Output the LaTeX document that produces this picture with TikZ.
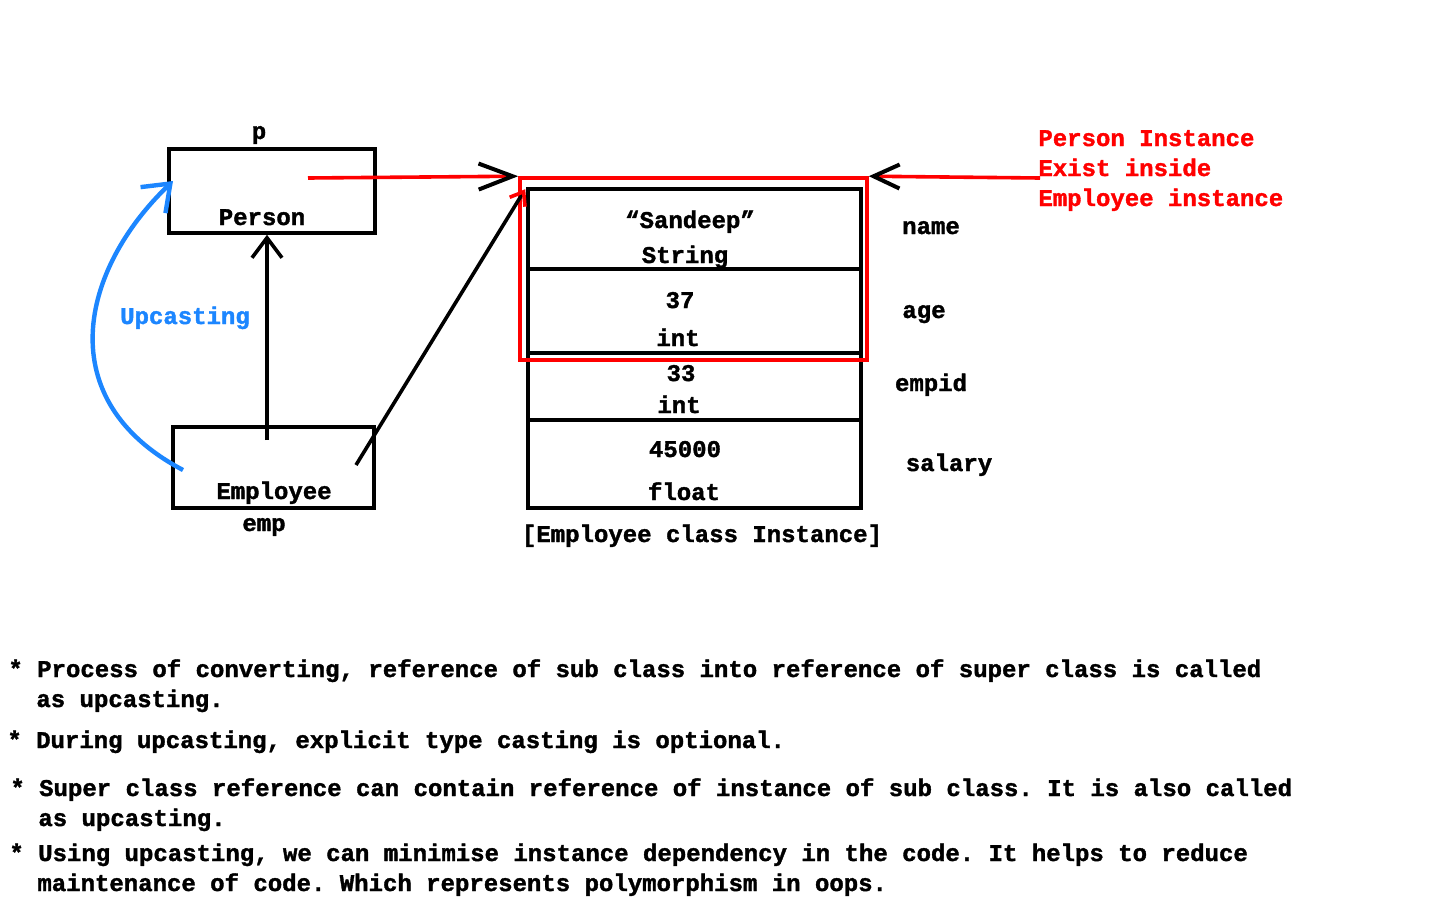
\documentclass[tikz,border=0pt]{standalone}
\usepackage{fontspec}
\setmonofont[FakeBold=1.5]{Liberation Mono}
\usetikzlibrary{arrows.meta}
\definecolor{upblue}{RGB}{28,134,255}
\definecolor{pred}{RGB}{255,0,0}
\begin{document}
\begin{tikzpicture}[x=0.5pt,y=-0.5pt,
  txt/.style={inner sep=0pt, font=\ttfamily\bfseries\fontsize{12pt}{15pt}\selectfont, text height=0.8em, text depth=0pt},
  box/.style={draw, line width=1.8pt, inner sep=0pt},
  cell/.style={box, minimum width=166.5pt},
  conn/.style={line width=1.8pt},
  redconn/.style={draw=pred, line width=1.8pt},
  redtxt/.style={txt, text=pred, anchor=west},
  bullet/.style={txt, anchor=west}
]
\useasboundingbox[fill=white] (0,0) rectangle (1440,900);

% reference boxes
\node[box, minimum width=103pt, minimum height=42pt] (person) at (272,191) {};
\node[txt] (plabel) at (259,131) {p};
\node[txt] (persontxt) at (262,217) {Person};

\node[box, minimum width=100.5pt, minimum height=40.5pt] (emp) at (273.5,467.5) {};
\node[txt] (emptxt) at (274,491) {Employee};
\node[txt] (emplabel) at (264,523) {emp};

% instance stack
\node[cell, minimum height=40pt] (c1) at (694.5,229) {};
\node[cell, minimum height=42pt] (c2) at (694.5,311) {};
\node[cell, minimum height=33.5pt] (c3) at (694.5,386.5) {};
\node[cell, minimum height=44pt] (c4) at (694.5,464) {};

\node[txt] (v1) at (690,220) {“Sandeep”};
\node[txt] (t1) at (685,255) {String};
\node[txt] (v2) at (680,300) {37};
\node[txt] (t2) at (678,338) {int};
\node[txt] (v3) at (681,373) {33};
\node[txt] (t3) at (679,405) {int};
\node[txt] (v4) at (685,449) {45000};
\node[txt] (t4) at (684,492) {float};
\node[txt] (inst) at (702,534) {[Employee class Instance]};

\node[txt] (f1) at (931,226) {name};
\node[txt] (f2) at (924,310) {age};
\node[txt] (f3) at (931,383) {empid};
\node[txt] (f4) at (949,463) {salary};

% person instance (red frame)
\node[draw=pred, line width=1.8pt, minimum width=173.5pt, minimum height=91pt, inner sep=0pt] (pinst) at (693.5,269) {};

\node[redtxt] (r1) at (1038,138) {Person Instance};
\node[redtxt] (r2) at (1038,168) {Exist inside};
\node[redtxt] (r3) at (1038,198) {Employee instance};

\node[txt, text=upblue] (upc) at (185,316) {Upcasting};

% connector end points
\coordinate (pref) at (308,178);
\coordinate (eref) at (267,440);
\coordinate (ediag) at (356,465);
\coordinate (lref) at (1040,178);
\coordinate (bstart) at (183,470);
\coordinate (bend) at (173,181);

% connectors
\draw[redconn, -{Straight Barb[length=17pt,width=13pt,black,line width=2pt]}] (pref) -- (pinst.north west);
\draw[redconn, -{Straight Barb[length=13pt,width=12pt,black,line width=2pt]}] (lref) -- (pinst.north east);
\draw[conn, -{Straight Barb[length=10pt,width=15pt]}] (eref) -- (eref |- person.south);
\draw[conn, -{Straight Barb[length=6pt,width=9pt,pred]}] (ediag) -- ([xshift=-0.5pt,yshift=-1pt]c1.north west);
\draw[upblue, line width=2.2pt, -{Straight Barb[length=12pt,width=18pt]}] (bstart) .. controls (50,400) and (80,270) .. (bend);

% notes
\node[bullet] (n1) at (8,669) {* Process of converting, reference of sub class into reference of super class is called};
\node[bullet] (n1b) at (36,699) {as upcasting.};
\node[bullet] (n2) at (7,740) {* During upcasting, explicit type casting is optional.};
\node[bullet] (n3) at (10,788) {* Super class reference can contain reference of instance of sub class. It is also called};
\node[bullet] (n3b) at (38,818) {as upcasting.};
\node[bullet] (n4) at (9,853) {* Using upcasting, we can minimise instance dependency in the code. It helps to reduce};
\node[bullet] (n4b) at (37,883) {maintenance of code. Which represents polymorphism in oops.};
\end{tikzpicture}
\end{document}
